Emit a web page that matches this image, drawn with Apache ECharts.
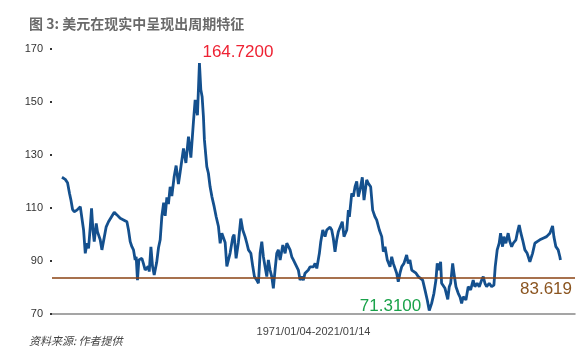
<!DOCTYPE html>
<html>
<head>
<meta charset="utf-8">
<script src="https://cdn.jsdelivr.net/npm/echarts@6/dist/echarts.min.js"></script>
<style>
html,body{margin:0;padding:0;background:#fff;}
#chart{width:588px;height:363px;}
</style>
</head>
<body>
<div id="chart"></div>
<script>
// Decimal-year dates and US dollar index values
var dates = [1971.00,1971.33,1971.56,1971.76,1971.90,1972.06,1972.23,1972.50,1972.84,1973.01,1973.17,1973.34,1973.51,1973.67,1973.84,1973.97,1974.11,1974.24,1974.44,1974.57,1974.84,1975.01,1975.17,1975.44,1975.67,1975.84,1976.25,1976.52,1976.85,1977.18,1977.52,1977.68,1977.85,1978.02,1978.18,1978.35,1978.45,1978.58,1978.72,1978.85,1979.02,1979.18,1979.35,1979.53,1979.66,1979.76,1979.93,1980.09,1980.26,1980.51,1980.69,1980.86,1981.03,1981.21,1981.36,1981.53,1981.69,1981.86,1982.03,1982.26,1982.46,1982.69,1982.87,1983.20,1983.44,1983.70,1983.94,1984.20,1984.37,1984.60,1984.80,1984.94,1985.07,1985.20,1985.30,1985.54,1985.70,1985.87,1986.05,1986.28,1986.48,1986.71,1986.88,1987.05,1987.21,1987.38,1987.55,1987.71,1987.88,1988.15,1988.28,1988.48,1988.71,1988.95,1989.15,1989.38,1989.56,1989.72,1989.96,1990.16,1990.32,1990.56,1990.72,1990.89,1991.06,1991.22,1991.39,1991.56,1991.72,1991.89,1992.06,1992.22,1992.39,1992.56,1992.72,1992.90,1993.17,1993.40,1993.57,1993.73,1993.90,1994.07,1994.23,1994.40,1994.57,1994.73,1994.90,1995.07,1995.23,1995.40,1995.57,1995.73,1995.90,1996.08,1996.24,1996.41,1996.58,1996.84,1996.98,1997.18,1997.41,1997.58,1997.91,1998.08,1998.24,1998.41,1998.58,1998.74,1998.91,1999.14,1999.31,1999.59,1999.75,1999.85,2000.09,2000.25,2000.42,2000.59,2000.75,2000.92,2001.15,2001.32,2001.59,2001.75,2001.99,2002.19,2002.42,2002.59,2002.86,2003.10,2003.26,2003.43,2003.66,2003.93,2004.10,2004.26,2004.60,2004.76,2004.93,2005.10,2005.33,2005.60,2005.76,2005.93,2006.11,2006.27,2006.54,2006.77,2006.94,2007.21,2007.44,2007.67,2007.87,2008.11,2008.34,2008.54,2008.67,2008.87,2009.01,2009.11,2009.45,2009.73,2009.88,2010.02,2010.22,2010.35,2010.55,2010.78,2010.95,2011.12,2011.28,2011.55,2011.78,2012.02,2012.28,2012.45,2012.68,2012.89,2013.13,2013.29,2013.46,2013.63,2013.89,2014.13,2014.36,2014.49,2014.69,2014.89,2015.03,2015.23,2015.36,2015.56,2015.79,2015.96,2016.14,2016.30,2016.57,2016.70,2016.90,2017.07,2017.24,2017.47,2017.70,2017.97,2018.24,2018.47,2018.70,2018.97,2019.30,2019.65,2019.98,2020.25,2020.38,2020.58,2020.81,2020.98,2021.04];
var dxy = [121.6,120.8,119.5,115.5,113.0,109.5,108.6,109.2,110.5,110.3,101.7,92.9,96.7,94.8,102.9,109.9,101.7,97.3,104.2,101.0,98.0,94.2,94.8,102.9,104.8,104.2,108.4,107.4,106.1,105.5,104.8,101.7,97.3,95.4,94.2,90.4,91.6,82.8,90.4,90.0,91.0,89.0,86.6,87.0,88.0,86.0,95.3,88.0,84.7,89.5,95.0,98.0,107.0,112.0,107.0,114.0,111.5,118.0,114.5,121.8,126.0,119.0,123.7,132.5,127.0,136.9,129.0,142.6,150.8,145.0,164.72,154.6,152.0,144.5,135.7,125.6,123.1,118.0,114.3,110.5,106.7,103.0,96.7,100.5,101.0,97.0,88.0,87.5,93.0,99.0,100.0,91.0,97.0,106.0,101.7,99.2,96.7,94.2,92.9,87.8,84.1,82.8,81.6,92.9,97.3,91.6,87.8,84.1,90.4,86.6,84.1,79.7,86.6,92.9,94.2,90.4,96.0,92.9,96.7,97.3,94.2,91.6,90.4,89.1,89.7,86.6,82.8,84.1,82.8,85.4,84.7,86.6,87.8,88.5,87.8,89.1,87.2,92.9,97.3,101.7,99.2,101.7,102.8,101.7,98.5,93.5,98.0,101.0,101.7,104.8,99.2,101.7,109.2,106.7,115.5,114.3,118.0,120.0,114.3,116.8,121.6,113.0,120.6,119.3,118.0,109.2,106.7,105.5,101.7,99.2,93.5,95.4,90.4,87.8,91.6,89.1,85.4,82.2,85.4,87.8,89.1,92.3,89.1,90.4,86.6,87.2,85.4,84.1,84.7,82.8,79.1,75.3,71.31,74.0,77.8,82.8,89.1,86.6,89.7,81.6,79.7,75.5,80.3,81.6,89.1,85.4,80.3,77.8,76.5,74.0,76.5,75.3,80.3,79.1,82.8,80.3,81.6,80.3,82.8,84.1,81.6,80.3,81.6,80.3,80.9,87.8,94.2,96.7,100.5,95.4,99.2,96.7,100.5,97.3,95.4,96.7,98.0,100.5,103.6,100.5,98.0,94.2,92.9,89.7,92.9,96.7,97.3,98.0,98.6,99.2,100.5,103.2,99.2,95.4,94.2,91.6,90.4];
var yTicks = [70, 90, 110, 130, 150, 170];
var refLevel = 83.619;
var titleText = '图 3: 美元在现实中呈现出周期特征';
var sourceText = '资料来源: 作者提供';
var xName = '1971/01/04-2021/01/14';

var seriesData = dates.map(function (d, i) { return [d, dxy[i]]; });

var chart = echarts.init(document.getElementById('chart'), null, {renderer: 'canvas'});
chart.setOption({
  animation: false,
  backgroundColor: '#fff',
  title: [
    {
      text: titleText, left: 24, top: 12,
      textStyle: {fontSize: 14, fontWeight: 'bold', color: '#6a6a6a', fontFamily: 'Noto Sans CJK SC'}
    },
    {
      text: sourceText, left: 24, top: 330,
      textStyle: {fontSize: 11, fontWeight: 'normal', fontStyle: 'italic', color: '#444', fontFamily: 'Noto Sans CJK SC'}
    }
  ],
  grid: {left: 52, right: 13, top: 49, bottom: 49, containLabel: false},
  xAxis: {
    type: 'value', min: 1970, max: 2022.5,
    name: xName, nameLocation: 'middle', nameGap: 12,
    nameTextStyle: {color: '#444', fontSize: 11, fontFamily: 'Liberation Sans'},
    axisLine: {show: true, lineStyle: {color: '#888', width: 1.5}},
    axisTick: {show: false}, axisLabel: {show: false}, splitLine: {show: false}
  },
  yAxis: {
    type: 'value', min: yTicks[0], max: yTicks[yTicks.length - 1], interval: 20,
    axisLine: {show: false},
    axisTick: {show: true, length: 2, lineStyle: {color: '#333', width: 2}},
    axisLabel: {color: '#333', fontSize: 11, margin: 9, fontFamily: 'Liberation Sans'},
    splitLine: {show: false}
  },
  series: [{
    type: 'line',
    data: seriesData,
    showSymbol: false,
    lineStyle: {color: '#14508e', width: 2.8},
    itemStyle: {color: '#14508e'},
    markLine: {
      silent: true,
      symbol: ['none', 'none'],
      lineStyle: {type: 'solid', color: '#8a4212', width: 1.5},
      label: {
        show: true, position: 'insideEndBottom', distance: 3,
        formatter: String(refLevel), color: '#8b5520', fontSize: 17, fontFamily: 'Liberation Sans'
      },
      data: [{yAxis: refLevel}]
    },
    markPoint: {
      silent: true,
      symbol: 'circle', symbolSize: 0,
      data: [
        {type: 'max', label: {show: true, position: 'right', distance: 3, offset: [0, -11],
          color: '#ee2233', fontSize: 17, fontFamily: 'Liberation Sans',
          formatter: function (p) { return p.value.toFixed(4); }}},
        {type: 'min', label: {show: true, position: 'left', distance: 8, offset: [0, -4],
          color: '#1aa24a', fontSize: 17, fontFamily: 'Liberation Sans',
          formatter: function (p) { return p.value.toFixed(4); }}}
      ]
    }
  }]
});
</script>
</body>
</html>
